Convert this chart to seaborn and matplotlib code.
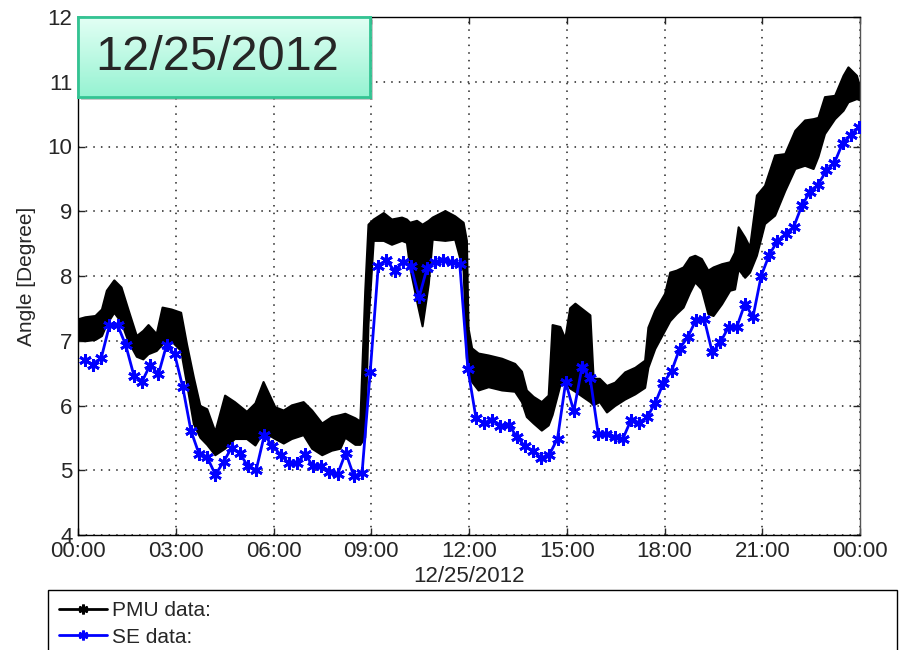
"""
PMU vs state-estimator angle, 12/25/2012
"""

import matplotlib

matplotlib.use("Agg")
import matplotlib.dates as mdates
import matplotlib.pyplot as plt
import numpy as np
import pandas as pd
import seaborn as sns
from matplotlib.colors import LinearSegmentedColormap
from matplotlib.lines import Line2D
from matplotlib.patches import Rectangle

day = pd.Timestamp("2012-12-25")

# SE data: one estimate every 15 minutes
se_values = [
    6.70, 6.63, 6.74, 7.24, 7.24, 6.93, 6.46, 6.37, 6.63, 6.48, 6.93, 6.79, 6.28, 5.61, 5.25, 5.20,
    4.93, 5.13, 5.35, 5.26, 5.06, 5.00, 5.54, 5.38, 5.24, 5.11, 5.11, 5.25, 5.06, 5.06, 4.98, 4.94,
    5.27, 4.91, 4.95, 6.51, 8.16, 8.24, 8.08, 8.21, 8.16, 7.67, 8.13, 8.21, 8.24, 8.21, 8.18, 6.56,
    5.80, 5.73, 5.78, 5.68, 5.70, 5.52, 5.37, 5.30, 5.19, 5.24, 5.49, 6.36, 5.91, 6.59, 6.43, 5.56,
    5.56, 5.51, 5.48, 5.77, 5.73, 5.82, 6.04, 6.35, 6.53, 6.88, 7.06, 7.32, 7.34, 6.82, 6.98, 7.21,
    7.21, 7.57, 7.37, 8.00, 8.33, 8.54, 8.65, 8.76, 9.09, 9.30, 9.41, 9.63, 9.75, 10.05, 10.18, 10.30,
]
se_start = "00:13"

# PMU data: min / max envelope of the raw (noisy) trace
pmu_hours = [
    0.00, 0.21, 0.52, 0.72, 0.87, 1.10, 1.32, 1.53, 1.79, 1.99, 2.15, 2.40, 2.58, 2.86, 3.15, 3.33,
    3.54, 3.74, 3.95, 4.20, 4.50, 4.80, 5.17, 5.43, 5.68, 6.04, 6.30, 6.55, 6.91, 7.17, 7.48, 7.78,
    8.04, 8.19, 8.50, 8.65, 8.80, 8.90, 9.06, 9.37, 9.62, 9.93, 10.08, 10.18, 10.39, 10.56, 10.75,
    10.87, 11.26, 11.56, 11.82, 11.92, 11.97, 12.08, 12.28, 12.59, 13.00, 13.40, 13.61, 13.76,
    13.97, 14.22, 14.43, 14.55, 14.79, 14.94, 15.09, 15.25, 15.71, 15.81, 16.00, 16.22, 16.47,
    16.78, 17.09, 17.39, 17.49, 17.70, 18.00, 18.16, 18.36, 18.57, 18.77, 18.93, 19.13, 19.33,
    19.49, 19.75, 20.00, 20.15, 20.26, 20.46, 20.61, 20.82, 21.07, 21.38, 21.69, 22.00, 22.30,
    22.56, 22.71, 22.91, 23.22, 23.48, 23.63, 23.89, 24.00,
]
pmu_low = [
    7.02, 7.00, 7.02, 7.08, 7.26, 7.44, 7.29, 7.00, 6.76, 6.72, 6.80, 6.85, 6.95, 7.00, 6.85, 6.34,
    5.72, 5.51, 5.40, 5.24, 5.34, 5.49, 5.49, 5.39, 5.60, 5.49, 5.42, 5.49, 5.55, 5.34, 5.24, 5.31,
    5.34, 5.51, 5.40, 5.40, 5.51, 7.26, 8.55, 8.55, 8.49, 8.55, 8.52, 8.13, 7.62, 7.23, 7.88,
    8.57, 8.55, 8.57, 8.08, 6.74, 6.50, 6.37, 6.24, 6.29, 6.24, 6.22, 6.06, 5.83,
    5.73, 5.62, 5.70, 5.86, 6.32, 6.42, 6.27, 6.22, 6.06, 6.01, 6.06, 5.90, 6.00,
    6.10, 6.18, 6.28, 6.59, 6.88, 7.16, 7.31, 7.42, 7.52, 7.75, 7.91, 7.80, 7.42,
    7.39, 7.57, 7.78, 7.80, 8.11, 7.98, 8.06, 8.32, 8.81, 8.94, 9.32, 9.66, 9.71,
    9.66, 9.85, 10.20, 10.43, 10.56, 10.69, 10.74, 10.72,
]
pmu_high = [
    7.34, 7.37, 7.39, 7.49, 7.78, 7.94, 7.83, 7.49, 7.08, 7.16, 7.25, 7.11, 7.52, 7.49, 7.44, 6.95,
    6.44, 6.00, 5.95, 5.60, 6.16, 6.06, 5.91, 6.04, 6.37, 5.98, 5.93, 6.01, 6.06, 5.93, 5.73, 5.83,
    5.86, 5.88, 5.81, 5.76, 7.77, 8.80, 8.88, 8.98, 8.88, 8.91, 8.88, 8.83, 8.86, 8.80, 8.86,
    8.91, 9.01, 8.93, 8.83, 8.55, 7.20, 6.89, 6.81, 6.78, 6.73, 6.65, 6.53, 6.24,
    6.14, 6.06, 6.16, 7.25, 7.22, 7.04, 7.51, 7.58, 7.40, 6.42, 6.42, 6.31, 6.36,
    6.52, 6.59, 6.70, 7.21, 7.47, 7.73, 8.06, 8.09, 8.14, 8.29, 8.32, 8.27, 8.09,
    8.14, 8.19, 8.22, 8.37, 8.76, 8.60, 8.45, 9.25, 9.40, 9.87, 9.89, 10.25, 10.41,
    10.43, 10.45, 10.77, 10.79, 11.10, 11.23, 11.10, 10.90,
]

# frames
pmu = pd.DataFrame(
    {
        "time": day + pd.to_timedelta(pmu_hours, unit="h"),
        "low": pmu_low,
        "high": pmu_high,
    }
)
pmu["mid"] = (pmu["low"] + pmu["high"]) / 2
se = pd.DataFrame(
    {
        "time": pd.date_range(f"2012-12-25 {se_start}", periods=len(se_values), freq="15min"),
        "angle": se_values,
    }
)

# plot
sns.set_style("ticks")
plt.rcParams["font.family"] = ["Liberation Sans", "DejaVu Sans"]

W, H = 906, 650
fig = plt.figure(figsize=(W / 100, H / 100), dpi=100)
ax = fig.add_axes([78 / W, 1 - 535 / H, 782 / W, 518 / H])

ax.fill_between(pmu["time"], pmu["low"], pmu["high"], color="black", lw=1.5, zorder=2)
sns.lineplot(data=pmu, x="time", y="mid", color="black", lw=1.5, ax=ax, zorder=2)
sns.lineplot(
    data=se,
    x="time",
    y="angle",
    color="#0000ff",
    lw=2,
    marker=(6, 2, 0),
    markersize=9,
    markeredgewidth=2,
    markeredgecolor="#0000ff",
    ax=ax,
    zorder=3,
)

ax.set_xlim(day, day + pd.Timedelta(days=1))
ax.set_ylim(4, 12)
ax.set_yticks(range(4, 13))
ax.xaxis.set_major_locator(mdates.HourLocator(byhour=range(0, 24, 3)))
ax.xaxis.set_major_formatter(mdates.DateFormatter("%H:%M"))
ax.set_axisbelow(True)
ax.grid(True, ls=(0, (1, 4)), color="#222222", lw=1.1)
ax.tick_params(direction="in", top=True, right=True, length=5, width=1, labelsize=16, pad=4)
ax.set_xlabel("12/25/2012", fontsize=16, labelpad=3)
ax.set_ylabel("Angle [Degree]", fontsize=15, labelpad=8)
for spine in ax.spines.values():
    spine.set_color("black")
    spine.set_linewidth(1)
ax.spines["right"].set_color("#555555")

# date badge with gradient fill and drop shadow
shadow = Rectangle(
    (81 / W, 1 - 100 / H), 292 / W, 80 / H,
    transform=fig.transFigure, fc="#8a8a8a", alpha=0.45, ec="none", zorder=2,
)
fig.patches.append(shadow)
badge = fig.add_axes([78 / W, 1 - 97 / H, 292 / W, 80 / H])
badge.set_zorder(5)
mint = LinearSegmentedColormap.from_list("mint", ["#e2fff4", "#96f3d2"])
badge.imshow(np.linspace(0, 1, 64)[:, None], aspect="auto", cmap=mint, extent=[0, 1, 0, 1])
badge.set_xticks([])
badge.set_yticks([])
for spine in badge.spines.values():
    spine.set_color("#33c493")
    spine.set_linewidth(2)
badge.text(0.475, 0.5, "12/25/2012", ha="center", va="center", fontsize=35, transform=badge.transAxes)

# legend box, cut by the bottom edge
handles = [
    Line2D([], [], color="black", lw=2, marker=(6, 2, 0), markersize=7, markeredgewidth=2),
    Line2D([], [], color="#0000ff", lw=2, marker=(6, 2, 0), markersize=7, markeredgewidth=2),
]
leg = fig.legend(
    handles,
    ["PMU data:", "SE data:"],
    loc="upper left",
    bbox_to_anchor=(48 / W, 0, 849 / W, 1 - 590 / H),
    mode="expand",
    fontsize=15,
    frameon=True,
    fancybox=False,
    shadow=False,
    edgecolor="black",
    framealpha=1,
    borderaxespad=0,
    borderpad=0.55,
    handlelength=2.3,
    handletextpad=0.2,
    labelspacing=0.35,
)
leg.get_frame().set_linewidth(1)

fig.savefig("out.png", dpi=100)
